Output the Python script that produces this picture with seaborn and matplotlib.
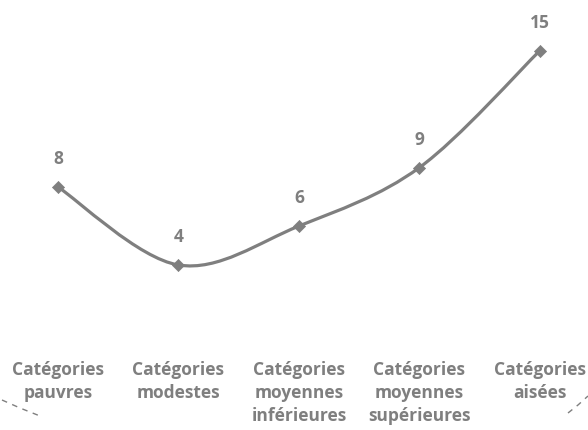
import numpy as np
import pandas as pd
import matplotlib
matplotlib.use("Agg")
import matplotlib.pyplot as plt
from matplotlib.path import Path
from matplotlib.patches import PathPatch
from matplotlib.lines import Line2D
import seaborn as sns

# données
categories = ["Catégories\npauvres", "Catégories\nmodestes", "Catégories\nmoyennes\ninférieures",
              "Catégories\nmoyennes\nsupérieures", "Catégories\naisées"]
valeurs = [8, 4, 6, 9, 15]

gris = "#7f7f7f"

sns.set_style("white")
plt.rcParams['font.family'] = ['Open Sans', 'DejaVu Sans']

fig = plt.figure(figsize=(5.88, 4.30), dpi=100)
ax = fig.add_axes([0, 80 / 430, 1, 350 / 430])

df = pd.DataFrame({"x": np.arange(len(valeurs)), "y": valeurs})

# courbe lissée (bezier type catmull-rom, comme Excel)
pts = df[["x", "y"]].to_numpy(dtype=float)
ext = np.vstack([pts[0], pts, pts[-1]])
verts = [tuple(pts[0])]
codes = [Path.MOVETO]
for i in range(len(pts) - 1):
    p0, p1, p2, p3 = ext[i], ext[i + 1], ext[i + 2], ext[i + 3]
    c1 = p1 + (p2 - p0) / 6
    c2 = p2 - (p3 - p1) / 6
    verts += [tuple(c1), tuple(c2), tuple(p2)]
    codes += [Path.CURVE4] * 3
ax.add_patch(PathPatch(Path(verts, codes), facecolor="none", edgecolor=gris,
                       lw=2.3, capstyle="round", joinstyle="round"))

sns.scatterplot(data=df, x="x", y="y", ax=ax, marker="D", s=38, color=gris,
                edgecolor=gris, linewidth=0.5, zorder=3, legend=False)

for xi, yi in zip(df["x"], df["y"]):
    ax.annotate(str(yi), (xi, yi), xytext=(0, 20), textcoords="offset points",
                ha="center", va="center", fontsize=12.5, fontweight="bold", color=gris)

ax.set_xlim(-58 / 120.5, 530 / 120.5)
ax.set_ylim(-7 / 19.5, 343 / 19.5)
ax.set_xticks(df["x"])
ax.set_xticklabels(categories, fontsize=12.5, fontweight="bold", color=gris, linespacing=1.35)
ax.tick_params(axis="x", length=0, pad=8)
ax.set_yticks([])
ax.set_xlabel("")
ax.set_ylabel("")
for s in ax.spines.values():
    s.set_visible(False)

# petits arcs pointillés dans les coins
fig.add_artist(Line2D([2 / 588, 20 / 588, 40 / 588], [1 - 400 / 430, 1 - 408 / 430, 1 - 416 / 430],
                      transform=fig.transFigure, color=gris, lw=1, ls=(0, (4, 4))))
fig.add_artist(Line2D([568 / 588, 578 / 588, 588 / 588], [1 - 413 / 430, 1 - 405 / 430, 1 - 396 / 430],
                      transform=fig.transFigure, color=gris, lw=1, ls=(0, (4, 4))))

fig.savefig("out.png", dpi=100, facecolor="white")
